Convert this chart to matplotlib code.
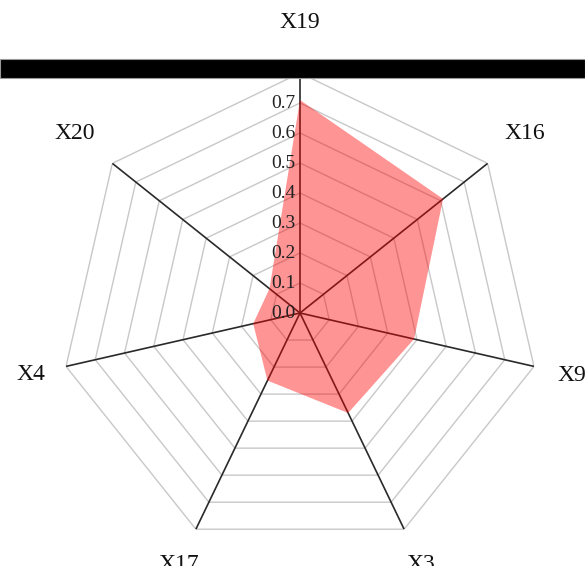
import numpy as np
import matplotlib
matplotlib.use("Agg")
import matplotlib.pyplot as plt
from matplotlib.patches import Rectangle

categories = ["X19", "X16", "X9", "X3", "X17", "X4", "X20"]
values = [0.71, 0.61, 0.39, 0.37, 0.25, 0.16, 0.13]
levels = [0.1, 0.2, 0.3, 0.4, 0.5, 0.6, 0.7, 0.8]
tick_labels = ["0.0", "0.1", "0.2", "0.3", "0.4", "0.5", "0.6", "0.7", "0.8"]

plt.rcParams['font.family'] = ['Liberation Serif', 'DejaVu Serif']

W, H = 585, 566
fig = plt.figure(figsize=(W / 100, H / 100), dpi=100)
cx, cy, R = 300, 313, 240
ax = fig.add_axes([(cx - R) / W, (H - cy - R) / H, 2 * R / W, 2 * R / H], projection='polar')
ax.set_theta_zero_location('N')
ax.set_theta_direction(-1)
ax.set_ylim(0, 0.8)
ax.set_xticks([])
ax.set_yticks([])
ax.grid(False)
ax.spines['polar'].set_visible(False)
ax.patch.set_alpha(0)

n = len(categories)
theta = np.linspace(0, 2 * np.pi, n, endpoint=False)
theta_c = np.append(theta, theta[0])

for lv in levels:
    ax.plot(theta_c, [lv] * (n + 1), color='#c8c8c8', lw=1.0, zorder=1)
for t in theta:
    ax.plot([t, t], [0, 0.8], color='#2a2a2a', lw=1.2, zorder=2)

vals = np.append(values, values[0])
ax.fill(theta_c, vals, color='#ff0000', alpha=0.42, lw=0, zorder=3)

for i, lab in enumerate(tick_labels):
    r = i * 0.1
    ax.annotate(lab, xy=(0, r), xytext=(-3, 0), textcoords='offset points',
                ha='right', va='center', fontsize=14, color='#222222', zorder=4)

label_r = [0.97, 0.96, 0.93, 0.93, 0.93, 0.92, 0.96]
for t, lab, r in zip(theta, categories, label_r):
    ax.text(t, r, lab, ha='center', va='center', fontsize=17, color='#111111',
            clip_on=False)

fig.add_artist(Rectangle((0, (H - 78) / H), 1, 19 / H, transform=fig.transFigure,
                         facecolor='black', edgecolor='#999999', lw=0.8, zorder=10))

fig.savefig("out.png", dpi=100, facecolor='white')
